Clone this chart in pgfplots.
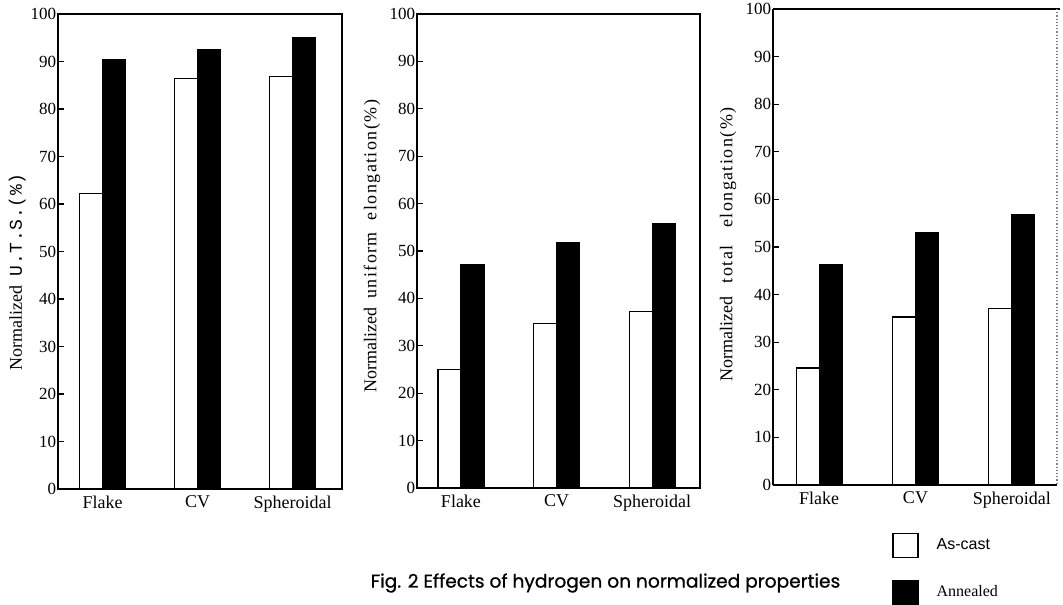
\documentclass[border=0pt]{standalone}
\usepackage{fontspec}
\setmainfont{Liberation Serif}
\newfontfamily\capfont[FakeBold=0.8]{Poppins}
\newfontfamily\legsans{Liberation Sans}
\newfontfamily\spacedserif[LetterSpace=8]{Liberation Serif}
\newfontfamily\spacedmono[LetterSpace=4]{Liberation Mono}
\usepackage{pgfplots}
\pgfplotsset{compat=1.18}

% one panel = one axis, 1px of the reference = 0.5pt
\pgfplotsset{
  panel/.style={
    scale only axis, ybar, bar width=11.5pt,
    ymin=0, ymax=100, ytick={0,10,...,100}, ytick pos=left,
    xtick={0,1,2}, xticklabels={Flake,CV,Spheroidal},
    xtick style={draw=none},
    tick align=inside, major tick length=3pt,
    tick style={line width=0.6pt,black},
    axis line style={line width=0.7pt},
    /pgf/number format/assume math mode=true,
    yticklabel style={font=\fontsize{8.5}{10}\selectfont, inner sep=0.8pt},
    xticklabel style={font=\fontsize{9}{10}\selectfont},
    ylabel style={font=\fontsize{9}{10}\selectfont, anchor=center},
    clip=false,
  },
  ascast/.style={draw=black, fill=white, line width=0.6pt, bar shift=-5.75pt},
  annealed/.style={draw=black, fill=black, line width=0.6pt, bar shift=5.75pt},
}

\begin{document}
\begin{tikzpicture}
\path[use as bounding box] (0,0) rectangle (531.5pt,-302pt);

% U.T.S.
\begin{axis}[panel, at={(29pt,-244.5pt)}, anchor=south west,
  width=142pt, height=237.5pt, xmin=-0.47, xmax=2.52,
  ylabel={Normalized\ \ {\spacedmono U.T.S.(\%)}},
  ylabel style={at={(rel axis cs:-0.144,0.457)}}]
\addplot[ascast] coordinates {(0,62.2) (1,86.5) (2,86.9)};
\addplot[annealed] coordinates {(0,90.3) (1,92.6) (2,95.0)};
\end{axis}

% uniform elongation
\begin{axis}[panel, at={(208.5pt,-244pt)}, anchor=south west,
  width=141.5pt, height=237pt, xmin=-0.46, xmax=2.50,
  ylabel={Normalized\ \ {\spacedserif uniform\ \ elongation(\%)}},
  ylabel style={at={(rel axis cs:-0.159,0.51)}}]
\addplot[ascast] coordinates {(0,25.0) (1,34.7) (2,37.2)};
\addplot[annealed] coordinates {(0,47.1) (1,51.8) (2,55.8)};
\end{axis}

% total elongation
\begin{axis}[panel, at={(386.5pt,-242.5pt)}, anchor=south west,
  width=142pt, height=238pt, xmin=-0.48, xmax=2.47,
  axis lines*=left,
  ylabel={Normalized\ \ \ {\spacedserif total\ \ \ elongation(\%)}},
  ylabel style={at={(rel axis cs:-0.158,0.505)}},
  legend style={at={(0.419,-0.10)}, anchor=north west, draw=none, fill=none,
    inner sep=0pt, row sep=11pt, column sep=9pt,
    nodes={inner sep=0pt, anchor=west}},
  legend cell align=left]
\addplot[ascast, legend image code/.code={%
  \draw[draw=black, fill=white, line width=0.6pt] (0pt,-6pt) rectangle (12.5pt,6pt);}]
  coordinates {(0,24.6) (1,35.3) (2,37.0)};
\addlegendentry{\legsans\fontsize{8}{10}\selectfont As-cast}
\addplot[annealed, legend image code/.code={%
  \draw[draw=black, fill=black] (0pt,-6pt) rectangle (12.5pt,6pt);}]
  coordinates {(0,46.3) (1,53.1) (2,56.9)};
\addlegendentry{\fontsize{8}{10}\selectfont Annealed}
\draw[line width=0.7pt] (rel axis cs:0,1) -- (rel axis cs:1.01,1);
\draw[gray, densely dotted, line width=0.6pt] (rel axis cs:1,1) -- (rel axis cs:1,0);
\end{axis}

\node[font=\capfont\fontsize{9.3}{11}\selectfont] at (302.75pt,-291.5pt)
  {Fig. 2 Effects of hydrogen on normalized properties};
\end{tikzpicture}
\end{document}
